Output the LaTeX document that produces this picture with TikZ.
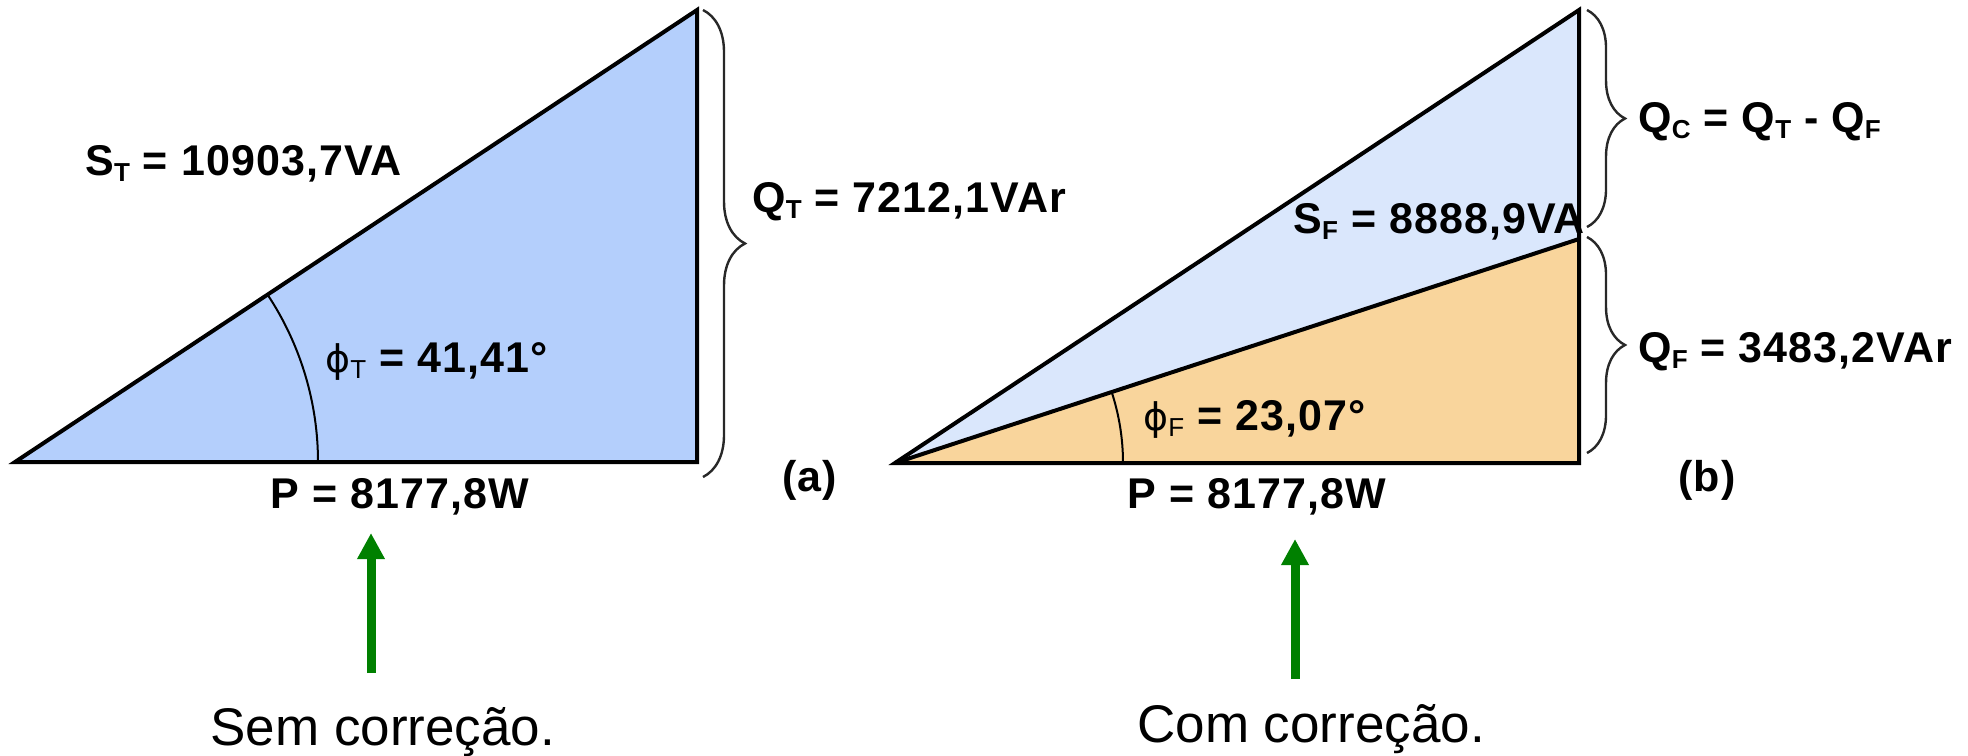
\documentclass[tikz,border=0pt]{standalone}
\usepackage{fontspec}
\setmainfont{Liberation Sans}
\newfontfamily\phifont{DejaVu Sans}
\newfontfamily\lblfont[LetterSpace=2.5]{Liberation Sans}
\usetikzlibrary{arrows.meta,decorations.pathreplacing,angles}
\definecolor{fillblue}{RGB}{180,207,252}
\definecolor{paleblue}{RGB}{218,231,252}
\definecolor{fillorange}{RGB}{249,213,156}
\definecolor{arrowgreen}{RGB}{0,128,0}
\definecolor{bracegray}{RGB}{40,40,40}
\newcommand{\mysub}[1]{\raisebox{-0.14em}{\fontsize{13}{13}\selectfont #1}}
\newcommand{\myphi}[1]{{\mdseries\phifont\fontsize{19}{19}\selectfont ϕ}{\mdseries\raisebox{-0.14em}{\fontsize{13}{13}\selectfont #1}}}
\tikzset{
  lbl/.style={anchor=base west, inner sep=0pt, font=\lblfont\fontsize{21.5}{21.5}\selectfont\bfseries},
  captext/.style={anchor=base west, inner sep=0pt, font=\fontsize{26.5}{26.5}\selectfont},
  edge/.style={line width=2pt, line join=miter},
  anglearc/.style={draw, line width=1pt},
  bracestyle/.style={decorate, line width=1.2pt, draw=bracegray},
  greenarrow/.style={line width=4.5pt, draw=arrowgreen, -{Triangle[width=13pt,length=13pt]}}
}
\begin{document}
\begin{tikzpicture}[x=0.5pt,y=-0.5pt]
\path[use as bounding box] (0,0) rectangle (1968,755);
% left triangle
\coordinate (A) at (15,462);
\coordinate (B) at (697,462);
\coordinate (C) at (697,10);
\fill[fillblue] (A) -- (B) -- (C) -- cycle;
\draw[edge] (A) -- (B) -- (C) -- cycle;
\pic[anglearc, angle radius=151.5pt] {angle=B--A--C};
% right triangle
\coordinate (D) at (895,463);
\coordinate (E) at (1579,463);
\coordinate (F) at (1579,10);
\coordinate (G) at (1579,239);
\fill[paleblue] (D) -- (G) -- (F) -- cycle;
\fill[fillorange] (D) -- (E) -- (G) -- cycle;
\draw[edge] (D) -- (E) -- (F) -- cycle;
\draw[edge] (D) -- (G);
\pic[anglearc, angle radius=114pt] {angle=E--D--G};
% braces
\coordinate (b1s) at (703,10);
\coordinate (b1e) at (703,477);
\draw[bracestyle, decoration={brace, amplitude=21pt}] (b1s) -- (b1e);
\coordinate (b2s) at (1587,10);
\coordinate (b2e) at (1587,227);
\draw[bracestyle, decoration={brace, amplitude=19pt}] (b2s) -- (b2e);
\coordinate (b3s) at (1587,237);
\coordinate (b3e) at (1587,453);
\draw[bracestyle, decoration={brace, amplitude=19pt}] (b3s) -- (b3e);
% labels left
\node[lbl] (ST) at (85,175) {S\mysub{T} = 10903,7VA};
\node[lbl] (QT) at (752,212) {Q\mysub{T} = 7212,1VAr};
\node[lbl] (phiT) at (325,372) {\myphi{T} = 41,41°};
\node[lbl] (P1) at (270,508) {P = 8177,8W};
\node[lbl] (la) at (782,491) {(a)};
% labels right
\node[lbl] (SF) at (1293,233) {S\mysub{F} = 8888,9VA};
\node[lbl] (phiF) at (1143,430) {\myphi{F} = 23,07°};
\node[lbl] (P2) at (1127,508) {P = 8177,8W};
\node[lbl] (QC) at (1638,132) {Q\mysub{C} = Q\mysub{T} - Q\mysub{F}};
\node[lbl] (QF) at (1638,362) {Q\mysub{F} = 3483,2VAr};
\node[lbl] (lb) at (1678,491) {(b)};
% captions
\node[captext] (sem) at (210,745) {Sem correção.};
\node[captext] (com) at (1137,742) {Com correção.};
% arrows
\coordinate (g1s) at (371,673);
\coordinate (g1e) at (371,533);
\draw[greenarrow] (g1s) -- (g1e);
\coordinate (g2s) at (1295,679);
\coordinate (g2e) at (1295,539);
\draw[greenarrow] (g2s) -- (g2e);
\end{tikzpicture}
\end{document}
